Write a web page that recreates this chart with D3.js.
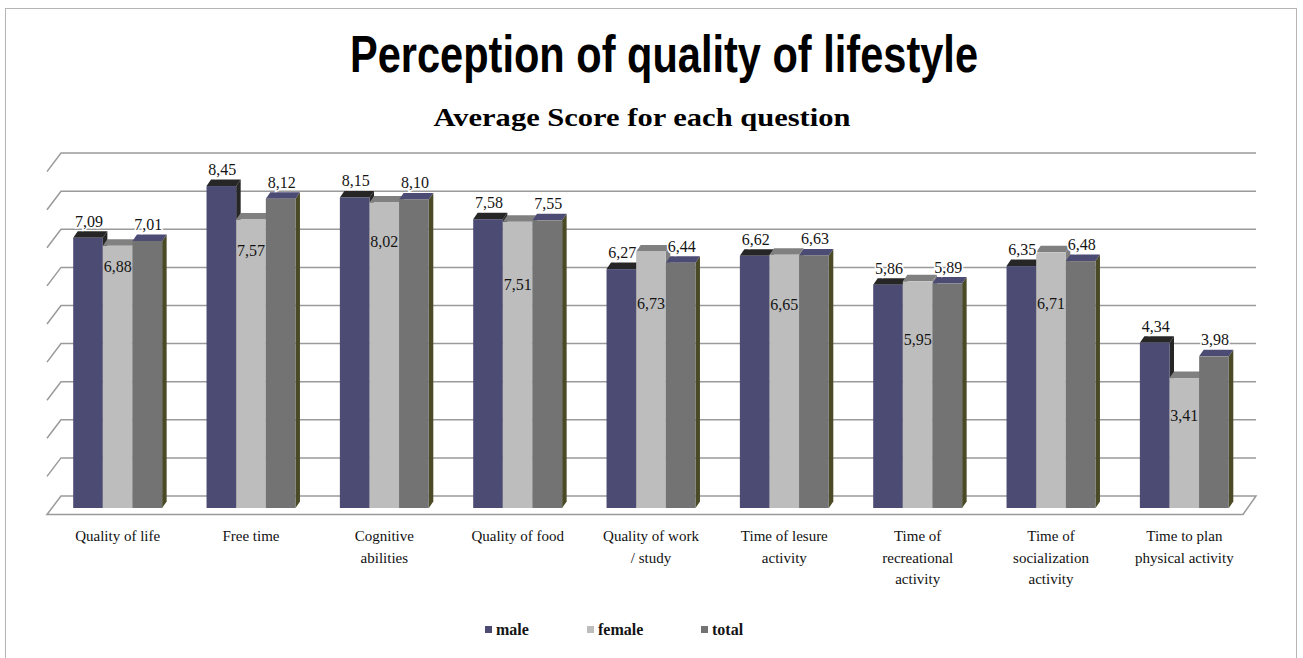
<!DOCTYPE html>
<html>
<head>
<meta charset="utf-8">
<script src="https://cdn.jsdelivr.net/npm/d3@7"></script>
<style>
  body { margin: 0; background: #fff; }
  svg { display: block; }
  .serif { font-family: "Liberation Serif", Tinos, "Times New Roman", serif; }
</style>
</head>
<body>
<svg id="chart" width="1303" height="658"></svg>
<script>
// data
const categories = [
  "Quality of life", "Free time", "Cognitive abilities", "Quality of food",
  "Quality of work / study", "Time of lesure activity", "Time of recreational activity",
  "Time of socialization activity", "Time to plan physical activity"
];
const categoryLines = [
  ["Quality of life"], ["Free time"], ["Cognitive", "abilities"], ["Quality of food"],
  ["Quality of work", "/ study"], ["Time of lesure", "activity"],
  ["Time of", "recreational", "activity"], ["Time of", "socialization", "activity"],
  ["Time to plan", "physical activity"]
];
const series = ["male", "female", "total"];
const male   = [7.09, 8.45, 8.15, 7.58, 6.27, 6.62, 5.86, 6.35, 4.34];
const female = [6.88, 7.57, 8.02, 7.51, 6.73, 6.65, 5.95, 6.71, 3.41];
const total  = [7.01, 8.12, 8.10, 7.55, 6.44, 6.63, 5.89, 6.48, 3.98];
const yTicks = [0, 1, 2, 3, 4, 5, 6, 7, 8, 9];

// layout: how far the female labels sit below their bar tops (px)
const femaleLabelDrop = [21, 31, 40, 63, 52, 50, 59, 52, 38];

const values = { male, female, total };
const colors = {
  male:   { front: "#4b4b73", top: "#262626", side: "#262626" },
  female: { front: "#bdbdbd", top: "#808080", side: "#808080" },
  total:  { front: "#737373", top: "#4b4b73", side: "#4a4a26" }
};

const svg = d3.select("#chart");
const fmt = v => d3.format(".2f")(v).replace(".", ",");

// outer border
svg.append("rect")
   .attr("x", 5.5).attr("y", 8.5)
   .attr("width", 1291).attr("height", 660)
   .attr("fill", "none").attr("stroke", "#b5b5b5");

// titles
svg.append("text")
   .attr("x", 664).attr("y", 72)
   .attr("text-anchor", "middle")
   .attr("font-family", "'Liberation Sans', Arimo, Arial, sans-serif")
   .attr("font-weight", "bold").attr("font-size", 52)
   .attr("textLength", 628).attr("lengthAdjust", "spacingAndGlyphs")
   .text("Perception of quality of lifestyle");

svg.append("text")
   .attr("class", "serif")
   .attr("x", 642).attr("y", 126)
   .attr("text-anchor", "middle")
   .attr("font-weight", "bold").attr("font-size", 25)
   .attr("textLength", 417).attr("lengthAdjust", "spacingAndGlyphs")
   .text("Average Score for each question");

// 3D geometry
const floorDepth = { dx: 14, dy: -18.5 };
const barDepth = { dx: 4.5, dy: -6.5 };
const frontBase = 508;

const yBack = d3.scaleLinear().domain([0, 9]).range([496, 496 - 9 * 38.1]);
const yFront = d3.scaleLinear().domain([0, 9]).range([frontBase, frontBase - 9 * 38.1]);

const x = d3.scaleBand()
  .domain(categories)
  .range([51, 1251])
  .paddingInner(0.333)
  .paddingOuter(0.1665);
const xs = d3.scaleBand().domain(series).range([0, x.bandwidth()]);

const backLeft = 61, backRight = 1256;

// floor
svg.append("path")
   .attr("d", `M${backLeft - floorDepth.dx},${yBack(0) - floorDepth.dy}
               L${backLeft},${yBack(0)} L${backRight},${yBack(0)}
               L${backRight - floorDepth.dx + 1},${yBack(0) - floorDepth.dy} Z`)
   .attr("fill", "#fff").attr("stroke", "#9a9a9a").attr("stroke-width", 1.5);

// gridlines on the back wall and side wall
const grid = svg.append("g").attr("fill", "none").attr("stroke", "#9a9a9a").attr("stroke-width", 1.5);
yTicks.filter(t => t > 0).forEach(t => {
  grid.append("path")
      .attr("d", `M${backLeft - floorDepth.dx},${yBack(t) - floorDepth.dy} L${backLeft},${yBack(t)} L${backRight},${yBack(t)}`);
});

// bars
const bars = svg.append("g");
categories.forEach((c, i) => {
  series.forEach(s => {
    const v = values[s][i];
    const x0 = x(c) + xs(s), w = xs.bandwidth();
    const top = yFront(v);
    const { dx, dy } = barDepth;
    bars.append("path")
        .attr("d", `M${x0 + w},${top} L${x0 + w + dx},${top + dy} L${x0 + w + dx},${frontBase + dy} L${x0 + w},${frontBase} Z`)
        .attr("fill", colors[s].side);
    bars.append("path")
        .attr("d", `M${x0},${top} L${x0 + dx},${top + dy} L${x0 + w + dx},${top + dy} L${x0 + w},${top} Z`)
        .attr("fill", colors[s].top);
    bars.append("rect")
        .attr("x", x0).attr("y", top)
        .attr("width", w).attr("height", frontBase - top)
        .attr("fill", colors[s].front);
  });
});

// value labels
const labels = svg.append("g")
  .attr("class", "serif")
  .attr("font-size", 16)
  .attr("text-anchor", "middle")
  .attr("fill", "#141414");

categories.forEach((c, i) => {
  ["male", "total"].forEach(s => {
    const v = values[s][i];
    labels.append("text")
          .attr("x", x(c) + xs(s) + xs.bandwidth() / 2 + 1)
          .attr("y", yFront(v) - 11)
          .attr("stroke", "#fff").attr("stroke-width", 3)
          .attr("paint-order", "stroke")
          .text(fmt(v));
  });
  const v = female[i];
  labels.append("text")
        .attr("x", x(c) + xs("female") + xs.bandwidth() / 2)
        .attr("y", yFront(v) + femaleLabelDrop[i] + 5)
        .text(fmt(v));
});

// category labels
const cats = svg.append("g")
  .attr("class", "serif")
  .attr("font-size", 15)
  .attr("text-anchor", "middle")
  .attr("fill", "#111");
categories.forEach((c, i) => {
  const t = cats.append("text")
    .attr("x", x(c) + x.bandwidth() / 2)
    .attr("y", 541);
  categoryLines[i].forEach((line, j) => {
    t.append("tspan")
     .attr("x", x(c) + x.bandwidth() / 2)
     .attr("dy", j === 0 ? 0 : 21.5)
     .text(line);
  });
});

// legend
const legendX = [485, 587, 701];
const legend = svg.append("g")
  .attr("class", "serif")
  .attr("font-size", 16)
  .attr("font-weight", "bold")
  .attr("fill", "#141414");
series.forEach((s, i) => {
  legend.append("rect")
        .attr("x", legendX[i]).attr("y", 626)
        .attr("width", 7).attr("height", 7)
        .attr("fill", colors[s].front);
  legend.append("text")
        .attr("x", legendX[i] + 11).attr("y", 635)
        .text(s);
});
</script>
</body>
</html>
